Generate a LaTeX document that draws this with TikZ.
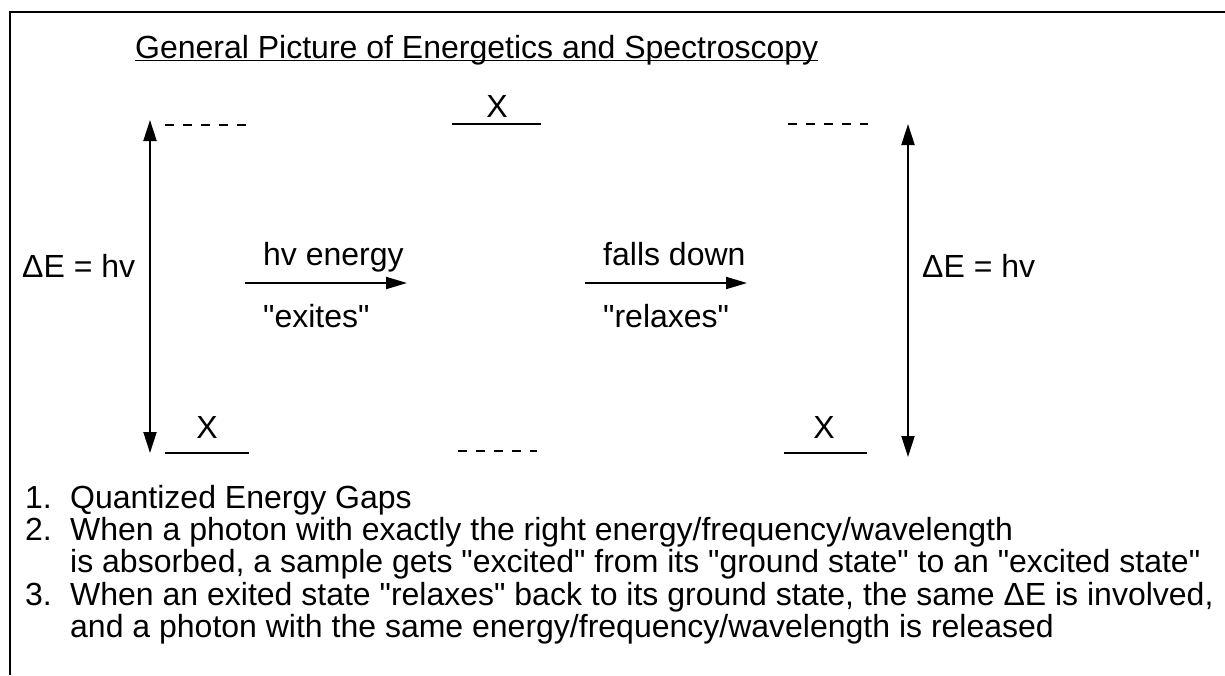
\documentclass[tikz,border=0pt]{standalone}
\usepackage{fontspec}
\newfontfamily\libsans{Liberation Sans}
\usetikzlibrary{arrows.meta}
\begin{document}
\begin{tikzpicture}[x=1pt,y=-1pt,
  txt/.style={inner sep=0pt, anchor=base west, font=\libsans\fontsize{32}{36}\selectfont},
  xlab/.style={inner sep=0pt, anchor=base, font=\libsans\fontsize{32}{36}\selectfont},
  level/.style={line width=2pt},
  virt/.style={line width=2pt, dash pattern=on 9pt off 9pt},
  arr/.style={line width=2pt, -{Triangle[length=21pt,width=12pt]}},
  darr/.style={line width=2pt, {Triangle[length=21pt,width=13pt]}-{Triangle[length=21pt,width=13pt]}},
]
\useasboundingbox (0,0) rectangle (1225,675);
% frame
\coordinate (fbl) at (10,675);
\coordinate (ftl) at (10,12);
\coordinate (ftr) at (1225,12);
\draw[line width=2.5pt] (fbl) -- (ftl) -- (ftr);

% title
\node[txt] (title) at (135,58) {General Picture of Energetics and Spectroscopy};
\draw[line width=1.5pt] ([yshift=-2.5pt]title.base west) -- ([yshift=-2.5pt]title.base east);

% left column
\coordinate (la1) at (150,120);
\coordinate (la2) at (150,453);
\draw[darr] (la2) -- (la1);
\coordinate (ld1) at (165,125);
\coordinate (ld2) at (249,125);
\draw[virt] (ld1) -- (ld2);
\coordinate (lg1) at (165,453);
\coordinate (lg2) at (249,453);
\draw[level] (lg1) -- (lg2);
\node[xlab] (lx) at (207,438) {X};
\node[txt] (lde) at (22,277) {ΔE = hv};

% middle column
\coordinate (mu1) at (452,124);
\coordinate (mu2) at (541,124);
\draw[level] (mu1) -- (mu2);
\node[xlab] (mx) at (497,117) {X};
\coordinate (md1) at (458,451);
\coordinate (md2) at (537,451);
\draw[virt] (md1) -- (md2);

% right column
\coordinate (rd1) at (788,124);
\coordinate (rd2) at (868,124);
\draw[virt] (rd1) -- (rd2);
\coordinate (rg1) at (784,453);
\coordinate (rg2) at (867,453);
\draw[level] (rg1) -- (rg2);
\node[xlab] (rx) at (824,438) {X};
\coordinate (ra1) at (908,124);
\coordinate (ra2) at (908,457);
\draw[darr] (ra2) -- (ra1);
\node[txt] (rde) at (922,277) {ΔE = hv};

% process arrows
\coordinate (a1s) at (245,283);
\coordinate (a1e) at (407,283);
\draw[arr] (a1s) -- (a1e);
\node[txt] (hv) at (263,265) {hv energy};
\node[txt] (ex) at (263,327) {"exites"};
\coordinate (a2s) at (585,283);
\coordinate (a2e) at (747,283);
\draw[arr] (a2s) -- (a2e);
\node[txt] (fd) at (603,265) {falls down};
\node[txt] (rl) at (603,327) {"relaxes"};

% list
\node[txt] (n1) at (25,508) {1.};
\node[txt] (t1) at (70,508) {Quantized Energy Gaps};
\node[txt] (n2) at (25,540) {2.};
\node[txt] (t2a) at (70,540) {When a photon with exactly the right energy/frequency/wavelength};
\node[txt] (t2b) at (70,572.5) {is absorbed, a sample gets "excited" from its "ground state" to an "excited state"};
\node[txt] (n3) at (25,605) {3.};
\node[txt] (t3a) at (70,605) {When an exited state "relaxes" back to its ground state, the same ΔE is involved,};
\node[txt] (t3b) at (70,637.5) {and a photon with the same energy/frequency/wavelength is released};
\end{tikzpicture}
\end{document}
